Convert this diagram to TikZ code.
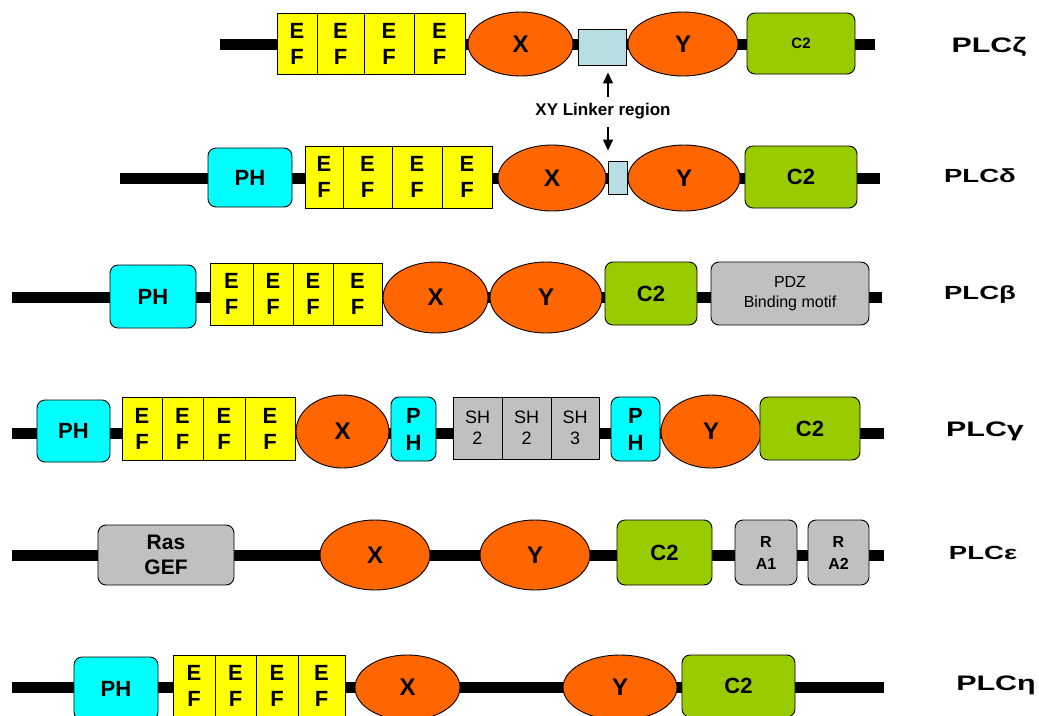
\documentclass[tikz,border=0pt]{standalone}
\usepackage{fontspec}
\setmainfont{Liberation Sans}
\newfontfamily\widefont[FakeStretch=1.45]{Liberation Sans}
\usetikzlibrary{shapes.geometric,arrows.meta}
\definecolor{efy}{HTML}{FFFF00}
\definecolor{orx}{HTML}{FF6600}
\definecolor{grc}{HTML}{99CC00}
\definecolor{cyph}{HTML}{00FFFF}
\definecolor{gry}{HTML}{C0C0C0}
\definecolor{lnk}{HTML}{B7DEE3}
\newcommand\bx[7]{\node[#6,minimum width={#4pt-#2pt},minimum height={#5pt-#3pt}] (#1) at ({(#2+#4)/2},{(#3+#5)/2}) {#7};}
\begin{document}
\begin{tikzpicture}[x=1pt,y=-1pt,
  bb/.style={line width=11pt},
  base/.style={draw=black,line width=0.9pt,inner sep=0pt,align=center},
  ef/.style={base,fill=efy,font=\bfseries\fontsize{22}{26}\selectfont},
  ell/.style={base,ellipse,fill=orx,font=\bfseries\fontsize{24}{26}\selectfont},
  ctwo/.style={base,rounded corners=8pt,fill=grc,font=\bfseries\fontsize{22}{24}\selectfont},
  ph/.style={base,rounded corners=8pt,fill=cyph,font=\bfseries\fontsize{22}{27}\selectfont},
  gbox/.style={base,rounded corners=8pt,fill=gry},
  sh/.style={base,fill=gry,font=\fontsize{18}{21}\selectfont},
  lk/.style={base,fill=lnk},
  plc/.style={inner sep=0pt,font=\widefont\bfseries\fontsize{21}{24}\selectfont},
  plcs/.style={inner sep=0pt,font=\widefont\bfseries\fontsize{19}{22}\selectfont},
  arr/.style={-{Triangle[length=11pt,width=10pt]},line width=1.4pt}
]
\useasboundingbox (0,0) rectangle (1039,715);
\fill[white] (0,0) rectangle (1039,715);

% ---------- PLC zeta ----------
\coordinate (a1) at (220,44); \coordinate (a2) at (875,44);
\draw[bb] (a1) -- (a2);
\bx{z1}{277}{13}{317}{74}{ef}{E\\F}
\bx{z2}{317}{13}{364}{74}{ef}{E\\F}
\bx{z3}{364}{13}{414}{74}{ef}{E\\F}
\bx{z4}{414}{13}{465}{74}{ef}{E\\F}
\bx{zx}{468}{12}{573}{76}{ell}{X}
\bx{zl}{578}{29}{626}{65}{lk}{}
\bx{zy}{628}{12}{738}{76}{ell}{Y}
\bx{zc}{747}{13}{855}{74}{ctwo,font=\bfseries\fontsize{15}{18}\selectfont}{C2}
\node[plc] (pz) at (989,47) {PLCζ};

% linker label
\node[inner sep=0pt,font=\bfseries\fontsize{17}{20}\selectfont] (lab) at (603,111) {XY Linker region};
\coordinate (u1) at (608,97);
\coordinate (u2) at (608,127);

% ---------- PLC delta ----------
\coordinate (d1) at (120,178); \coordinate (d2) at (880,178);
\draw[bb] (d1) -- (d2);
\bx{dp}{208}{148}{292}{207}{ph}{PH}
\bx{d1b}{305}{146}{343}{208}{ef}{E\\F}
\bx{d2b}{343}{146}{392}{208}{ef}{E\\F}
\bx{d3b}{392}{146}{442}{208}{ef}{E\\F}
\bx{d4b}{442}{146}{492}{208}{ef}{E\\F}
\bx{dx}{498}{145}{606}{211}{ell}{X}
\bx{dl}{608}{161}{627}{194}{lk}{}
\bx{dy}{628}{145}{740}{211}{ell}{Y}
\bx{dc}{745}{146}{857}{208}{ctwo}{C2}
\node[plcs] (pd) at (980,176) {PLCδ};

\draw[arr,shorten >=7pt] (u1) -- (u1 |- zl.south);
\draw[arr,shorten >=10pt] (u2) -- (u2 |- dl.north);

% ---------- PLC beta ----------
\coordinate (e1) at (12,297); \coordinate (e2) at (882,297);
\draw[bb] (e1) -- (e2);
\bx{bp}{110}{265}{196}{328}{ph}{PH}
\bx{b1}{210}{263}{253}{325}{ef}{E\\F}
\bx{b2}{253}{263}{293}{325}{ef}{E\\F}
\bx{b3}{293}{263}{333}{325}{ef}{E\\F}
\bx{b4}{333}{263}{382}{325}{ef}{E\\F}
\bx{bx}{383}{262}{488}{333}{ell}{X}
\bx{by}{490}{262}{602}{333}{ell}{Y}
\bx{bc}{605}{262}{697}{325}{ctwo}{C2}
\bx{bpdz}{711}{262}{869}{325}{gbox,font=\fontsize{16}{20}\selectfont}{PDZ\\Binding motif}
\node[plcs] (pb) at (980,295) {PLCβ};

% ---------- PLC gamma ----------
\coordinate (g1) at (12,433); \coordinate (g2) at (884,433);
\draw[bb] (g1) -- (g2);
\bx{gp}{37}{400}{110}{462}{ph}{PH}
\bx{g1b}{122}{397}{162}{460}{ef}{E\\F}
\bx{g2b}{162}{397}{203}{460}{ef}{E\\F}
\bx{g3b}{203}{397}{245}{460}{ef}{E\\F}
\bx{g4b}{245}{397}{295}{460}{ef}{E\\F}
\bx{gx}{296}{395}{389}{468}{ell}{X}
\bx{gp2}{391}{397}{436}{461}{ph}{P\\H}
\bx{gs1}{453}{397}{502}{459}{sh}{SH\\2}
\bx{gs2}{502}{397}{551}{459}{sh}{SH\\2}
\bx{gs3}{551}{397}{599}{459}{sh}{SH\\3}
\bx{gp3}{611}{397}{660}{461}{ph}{P\\H}
\bx{gy}{661}{395}{761}{468}{ell}{Y}
\bx{gc}{760}{397}{860}{460}{ctwo}{C2}
\node[plc] (pg) at (985,431) {PLCγ};

% ---------- PLC epsilon ----------
\coordinate (h1) at (12,555); \coordinate (h2) at (884,555);
\draw[bb] (h1) -- (h2);
\bx{er}{98}{525}{234}{585}{gbox,font=\bfseries\fontsize{21}{25}\selectfont}{Ras\\GEF}
\bx{ex}{320}{520}{430}{590}{ell}{X}
\bx{ey}{480}{520}{590}{590}{ell}{Y}
\bx{ec}{617}{520}{712}{585}{ctwo}{C2}
\bx{ea1}{735}{520}{797}{585}{gbox,font=\bfseries\fontsize{16}{22}\selectfont}{R\\A1}
\bx{ea2}{808}{520}{869}{585}{gbox,font=\bfseries\fontsize{16}{22}\selectfont}{R\\A2}
\node[plcs] (pe) at (983,553) {PLCε};

% ---------- PLC eta ----------
\coordinate (k1) at (12,687); \coordinate (k2) at (884,687);
\draw[bb] (k1) -- (k2);
\bx{kp}{74}{657}{158}{720}{ph}{PH}
\bx{k1b}{173}{655}{215}{717}{ef}{E\\F}
\bx{k2b}{215}{655}{256}{717}{ef}{E\\F}
\bx{k3b}{256}{655}{298}{717}{ef}{E\\F}
\bx{k4b}{298}{655}{345}{717}{ef}{E\\F}
\bx{kx}{355}{655}{460}{720}{ell}{X}
\bx{ky}{563}{655}{677}{720}{ell}{Y}
\bx{kc}{682}{655}{795}{717}{ctwo}{C2}
\node[plc] (pk) at (996,685) {PLCη};
\end{tikzpicture}
\end{document}
